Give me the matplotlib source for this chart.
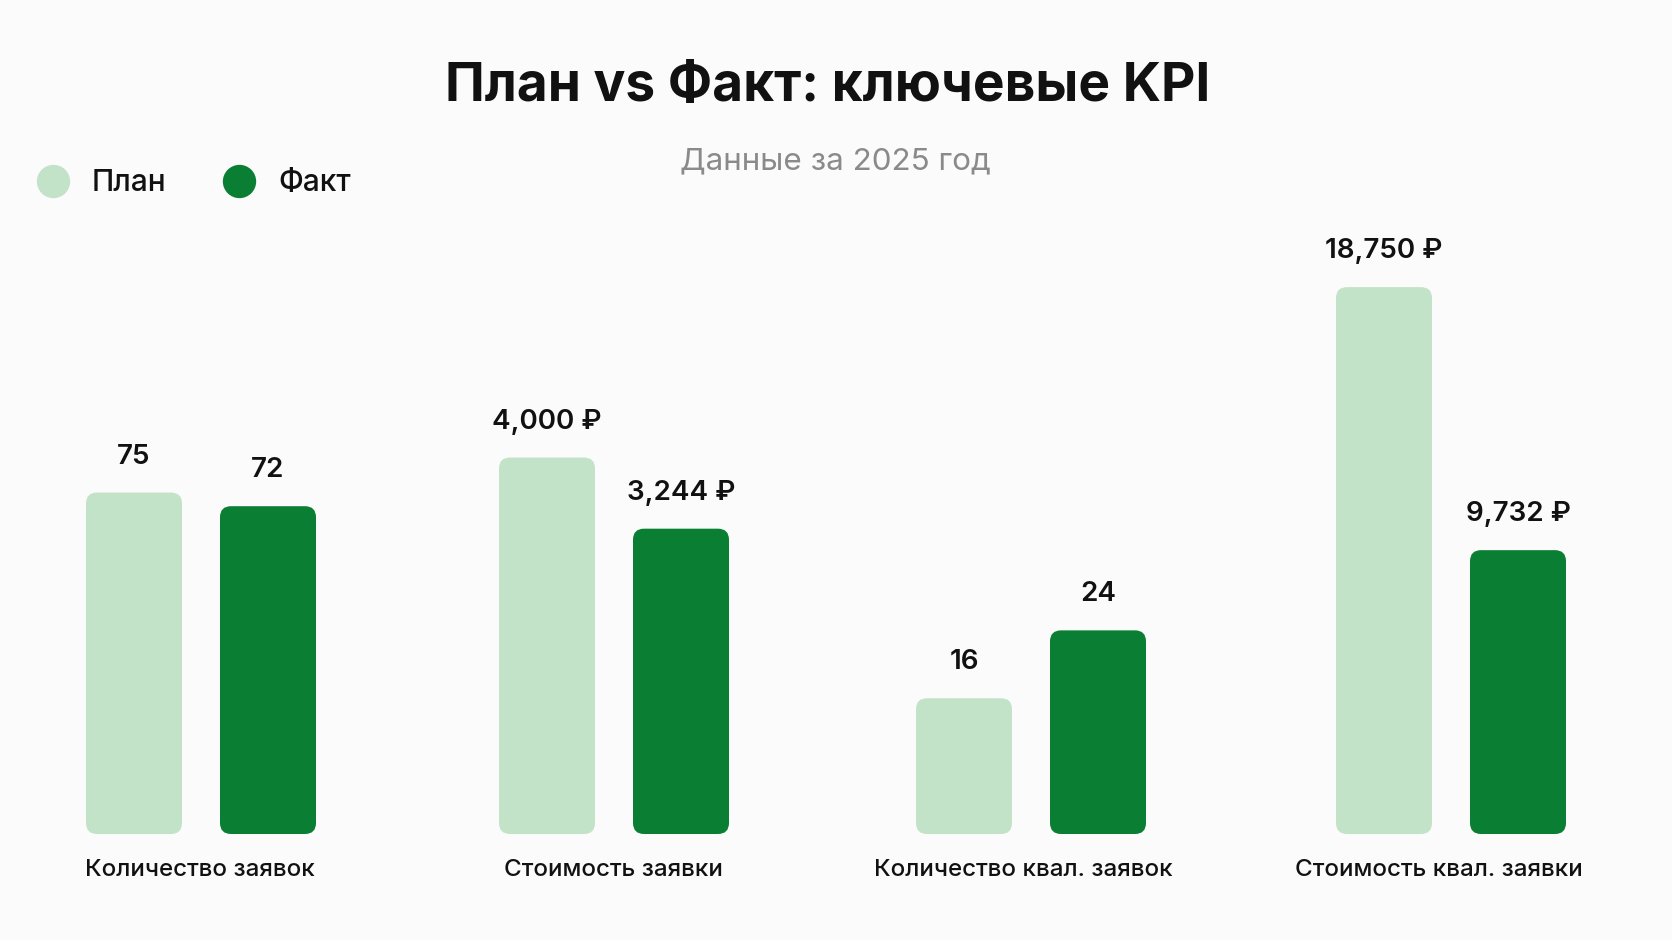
import matplotlib
matplotlib.use("Agg")
import matplotlib.pyplot as plt
from matplotlib.patches import FancyBboxPatch
from matplotlib.lines import Line2D

plt.rcParams['font.family'] = ['Inter', 'DejaVu Sans']

# ---- data ----
categories = ["Количество заявок", "Стоимость заявки",
              "Количество квал. заявок", "Стоимость квал. заявки"]
plan_values = [75, 4000, 16, 18750]
fact_values = [72, 3244, 24, 9732]
is_currency = [False, True, False, True]
series_names = ["План", "Факт"]
title_text = "План vs Факт: ключевые KPI"
subtitle_text = "Данные за 2025 год"

# per-KPI axis top (each KPI drawn on its own scale)
axis_top = [123, 5950, 66, 19200]

# ---- style ----
W, H = 1672, 940
BG = "#fbfbfb"
PLAN_C = "#c3e3c8"
FACT_C = "#0a7f34"
TEXT_C = "#111111"

fig = plt.figure(figsize=(W / 100, H / 100), dpi=100, facecolor=BG)

group_centers_px = [201, 614, 1031, 1451]
label_shift_px = [-1, -1, -8, -12]
ax_half_w = 200
ax_bottom_px = 834
ax_h_px = 560
bar_w = 96
bar_off = 67
radius = 11


def fmt(v, cur):
    s = f"{v:,}"
    return s + " ₽" if cur else s


for i, cat in enumerate(categories):
    left = (group_centers_px[i] - ax_half_w) / W
    bottom = (H - ax_bottom_px) / H
    ax = fig.add_axes([left, bottom, 2 * ax_half_w / W, ax_h_px / H])
    ax.set_xlim(-ax_half_w, ax_half_w)
    ax.set_ylim(0, axis_top[i])
    ax.axis("off")
    aspect = axis_top[i] / ax_h_px
    for x, v, c in ((-bar_off, plan_values[i], PLAN_C), (bar_off, fact_values[i], FACT_C)):
        bars = ax.bar([x], [v], width=bar_w, color=c)
        b = bars[0]
        b.set_visible(False)
        p = FancyBboxPatch((b.get_x(), 0), b.get_width(), b.get_height(),
                           boxstyle=f"round,pad=0,rounding_size={radius}",
                           mutation_aspect=aspect, facecolor=c, edgecolor="none")
        ax.add_patch(p)
        ax.annotate(fmt(v, is_currency[i]), xy=(x, v), xytext=(0, 36),
                    textcoords="offset pixels", ha="center", va="center",
                    fontsize=20, fontweight=600, color=TEXT_C)
    ax.annotate(cat, xy=(0, 0), xycoords=("data", "axes fraction"),
                xytext=(label_shift_px[i], -36), textcoords="offset pixels",
                ha="center", va="center", fontsize=17.4, fontweight=500,
                color=TEXT_C, annotation_clip=False)

fig.text(828 / W, 1 - 87 / H, title_text, ha="center", va="center",
         fontsize=38.3, fontweight=700, color=TEXT_C)
fig.text(835 / W, 1 - 161 / H, subtitle_text, ha="center", va="center",
         fontsize=22.6, fontweight=400, color="#8a8a8a")

handles = [Line2D([], [], marker="o", linestyle="none", markersize=24,
                  markerfacecolor=PLAN_C, markeredgecolor="none"),
           Line2D([], [], marker="o", linestyle="none", markersize=24,
                  markerfacecolor=FACT_C, markeredgecolor="none")]
leg = fig.legend(handles, series_names, loc="center left",
                 bbox_to_anchor=(8 / W, 1 - 183 / H), ncol=2, frameon=False,
                 fontsize=21.5, handletextpad=0.7, columnspacing=1.85,
                 handlelength=1.2)
for t in leg.get_texts():
    t.set_fontweight(500)
    t.set_color(TEXT_C)

fig.savefig("out.png", dpi=100, facecolor=BG)
